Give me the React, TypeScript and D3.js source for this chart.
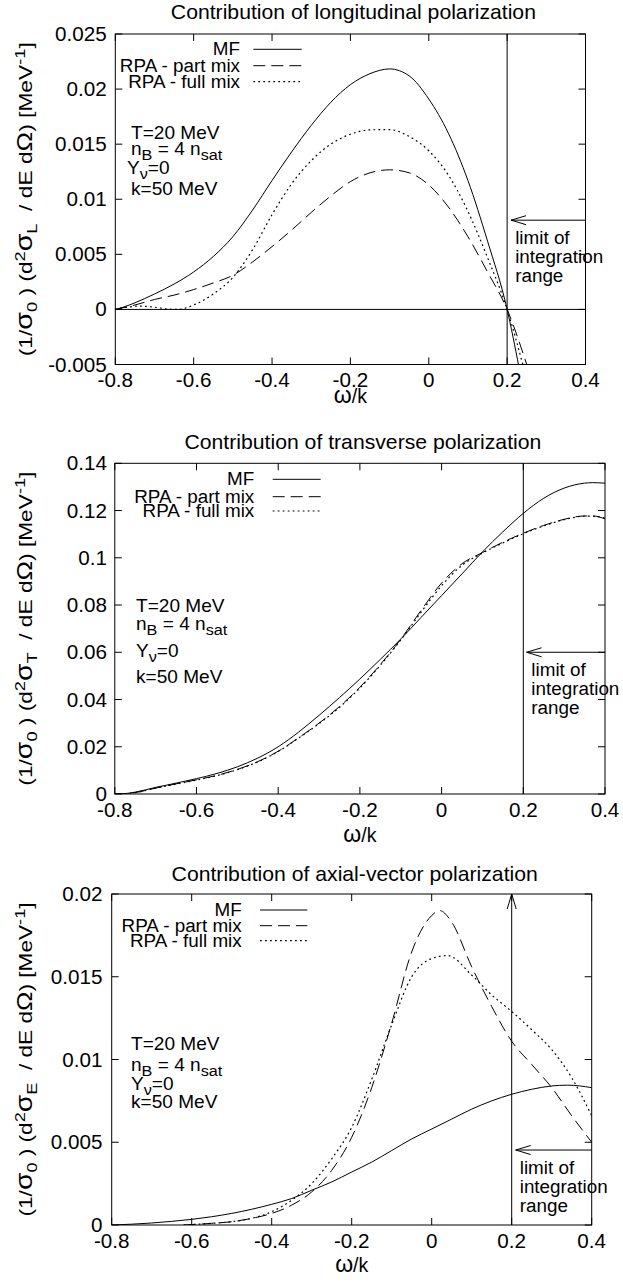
import React from 'react';
import * as d3 from 'd3';

// ---------- data ----------
const X_TICKS = [-0.8, -0.6, -0.4, -0.2, 0, 0.2, 0.4];
const X_DOMAIN = [-0.8, 0.4];

// Panel 1: longitudinal
const P1_YTICKS = [-0.005, 0, 0.005, 0.01, 0.015, 0.02, 0.025];
const P1_MF_X = [-0.8, -0.78, -0.75, -0.7, -0.65, -0.6, -0.55, -0.5, -0.45, -0.4, -0.35, -0.3, -0.25, -0.2, -0.15, -0.1, -0.05, 0, 0.05, 0.1, 0.15, 0.2, 0.23];
const P1_MF_Y = [0, 0.0002, 0.0006, 0.0014, 0.0023, 0.0034, 0.0048, 0.0066, 0.009, 0.0117, 0.0143, 0.0167, 0.0188, 0.0204, 0.0214, 0.02183, 0.0212, 0.0191, 0.016, 0.0117, 0.0062, 0, -0.0052];
const P1_PART_X = [-0.8, -0.75, -0.7, -0.65, -0.6, -0.55, -0.5, -0.45, -0.4, -0.35, -0.3, -0.25, -0.2, -0.15, -0.1, -0.05, 0, 0.05, 0.1, 0.15, 0.2, 0.25];
const P1_PART_Y = [0, 0.0004, 0.0009, 0.0013, 0.0018, 0.0024, 0.0031, 0.0043, 0.0057, 0.0072, 0.0088, 0.0103, 0.0116, 0.0124, 0.01267, 0.0124, 0.0113, 0.0093, 0.0066, 0.0034, 0, -0.005];
const P1_FULL_X = [-0.8, -0.77, -0.74, -0.7, -0.67, -0.64, -0.6, -0.55, -0.5, -0.45, -0.4, -0.35, -0.3, -0.25, -0.2, -0.15, -0.1, -0.05, 0, 0.05, 0.1, 0.15, 0.2, 0.24];
const P1_FULL_Y = [0, 0.0002, 0.0003, 0.0002, 0.00005, 0, 0.0004, 0.0014, 0.0029, 0.0054, 0.0086, 0.0114, 0.0135, 0.015, 0.0159, 0.0163, 0.01632, 0.0157, 0.0144, 0.0122, 0.0089, 0.0047, 0, -0.005];

// Panel 2: transverse
const P2_YTICKS = [0, 0.02, 0.04, 0.06, 0.08, 0.1, 0.12, 0.14];
const P2_X = [-0.8, -0.78, -0.75, -0.7, -0.65, -0.6, -0.55, -0.5, -0.45, -0.4, -0.35, -0.3, -0.25, -0.2, -0.15, -0.1, -0.05, 0, 0.05, 0.1, 0.15, 0.2, 0.25, 0.3, 0.35, 0.37, 0.4];
const P2_MF_Y = [0, 0.0001, 0.0008, 0.0028, 0.0046, 0.0065, 0.0087, 0.0115, 0.0152, 0.02, 0.0262, 0.0333, 0.0408, 0.0487, 0.057, 0.0656, 0.0748, 0.084, 0.0932, 0.1025, 0.111, 0.1188, 0.1252, 0.1295, 0.1316, 0.1318, 0.1316];
const P2_PART_Y = [0, 0.0001, 0.0006, 0.0025, 0.0043, 0.006, 0.0079, 0.0104, 0.0137, 0.0181, 0.0238, 0.03, 0.037, 0.0452, 0.0548, 0.0655, 0.0778, 0.0893, 0.0975, 0.1022, 0.1066, 0.1104, 0.1137, 0.1163, 0.1177, 0.1177, 0.1165];
const P2_FULL_Y = [0, 0.0001, 0.0006, 0.0025, 0.0042, 0.0059, 0.0078, 0.0103, 0.0136, 0.018, 0.0237, 0.0298, 0.0367, 0.0449, 0.0545, 0.0652, 0.077, 0.0882, 0.0968, 0.102, 0.1063, 0.1102, 0.1135, 0.1161, 0.1176, 0.1176, 0.1168];

// Panel 3: axial-vector
const P3_YTICKS = [0, 0.005, 0.01, 0.015, 0.02];
const P3_MF_X = [-0.8, -0.75, -0.7, -0.65, -0.6, -0.55, -0.5, -0.45, -0.4, -0.35, -0.3, -0.25, -0.2, -0.15, -0.1, -0.05, 0, 0.05, 0.1, 0.15, 0.2, 0.25, 0.3, 0.34, 0.4];
const P3_MF_Y = [0, 0.00005, 0.00012, 0.00022, 0.00034, 0.0005, 0.0007, 0.00095, 0.00125, 0.0016, 0.0021, 0.0026, 0.0032, 0.0038, 0.0045, 0.0052, 0.0058, 0.0064, 0.007, 0.0075, 0.0079, 0.0082, 0.0084, 0.00845, 0.0083];
const P3_PART_X = [-0.62, -0.55, -0.5, -0.45, -0.4, -0.35, -0.3, -0.25, -0.2, -0.15, -0.1, -0.05, 0, 0.02, 0.05, 0.1, 0.15, 0.2, 0.25, 0.3, 0.35, 0.4];
const P3_PART_Y = [0, 0.0001, 0.0002, 0.0004, 0.0007, 0.0012, 0.002, 0.0033, 0.0053, 0.0083, 0.0122, 0.0165, 0.0187, 0.019, 0.0183, 0.0156, 0.0132, 0.0111, 0.0097, 0.0083, 0.0066, 0.005];
const P3_FULL_X = [-0.62, -0.55, -0.5, -0.45, -0.4, -0.35, -0.3, -0.25, -0.2, -0.15, -0.1, -0.05, 0, 0.04, 0.1, 0.15, 0.2, 0.25, 0.3, 0.35, 0.4];
const P3_FULL_Y = [0, 0.0001, 0.0002, 0.0004, 0.0008, 0.0015, 0.0025, 0.004, 0.0059, 0.0088, 0.0121, 0.015, 0.0161, 0.01628, 0.0151, 0.0139, 0.0129, 0.0118, 0.0106, 0.0089, 0.0066];

const LEGEND = ['MF', 'RPA - part mix', 'RPA - full mix'];
const LIMIT_X = 0.2;

// ---------- styles ----------
const FONT = "'Liberation Sans', Arial, Helvetica, sans-serif";
const SX = 1.06;
const DASHES = [null, '12,6', '1.8,3.2'];

type Seg = { t: string; shift?: number; scale?: number };

function Rich({ segs, fs }: { segs: Seg[]; fs: number }) {
  let cur = 0;
  return (
    <>
      {segs.map((s, i) => {
        const target = s.shift || 0;
        const dy = target - cur;
        cur = target;
        return (
          <tspan key={i} dy={dy} fontSize={fs * (s.scale ?? 1)}>
            {s.t}
          </tspan>
        );
      })}
    </>
  );
}

function T({ x, y, fs, anchor = 'start', sx = SX, children }: any) {
  return (
    <text
      transform={`translate(${x},${y}) scale(${sx},1)`}
      textAnchor={anchor}
      fontSize={fs}
      fontFamily={FONT}
      fill="#000"
      style={{ whiteSpace: 'pre' }}
    >
      {children}
    </text>
  );
}

const fmt = (v: number) => String(+v.toFixed(4));

interface PanelProps {
  id: string;
  left: number; right: number; top: number; bottom: number;
  yDomain: [number, number];
  yTicks: number[];
  series: { xs: number[]; ys: number[] }[];
  title: string; titleY: number;
  sub: string;
  yTickRight: number;
  xTickBase: number;
  xLabelBase: number;
  legend: { textRight: number; lx1: number; lx2: number; rows: number[] };
  annot: { x: number; xY?: number; base: number[] };
  arrowY: number; arrowTip: number;
  zeroLine?: boolean;
  vArrow?: boolean;
}

function Panel(p: PanelProps) {
  const x = d3.scaleLinear().domain(X_DOMAIN).range([p.left, p.right]);
  const y = d3.scaleLinear().domain(p.yDomain).range([p.bottom, p.top]);
  const line = d3
    .line<[number, number]>()
    .x((d) => x(d[0]))
    .y((d) => y(d[1]))
    .curve(d3.curveMonotoneX);
  const tick = 7;
  const cx = (p.left + p.right) / 2;
  const cy = (p.top + p.bottom) / 2;
  const xl = x(LIMIT_X);
  const ay = y(p.arrowY);
  const tipX = x(p.arrowTip);
  const fsAnn = 18;
  const fsLeg = 17.8;
  const sub = (t: string): Seg => ({ t, shift: 5, scale: 0.85 });

  return (
    <g>
      <defs>
        <clipPath id={`clip-${p.id}`}>
          <rect x={p.left} y={p.top} width={p.right - p.left} height={p.bottom - p.top} />
        </clipPath>
      </defs>
      {/* title */}
      <T x={cx + 3} y={p.titleY} fs={20} anchor="middle">{p.title}</T>

      {/* frame */}
      <rect x={p.left} y={p.top} width={p.right - p.left} height={p.bottom - p.top} fill="none" stroke="#000" strokeWidth={1} />
      {/* y ticks */}
      {p.yTicks.map((v) => (
        <g key={'y' + v}>
          <line x1={p.left} x2={p.left + tick} y1={y(v)} y2={y(v)} stroke="#000" />
          <line x1={p.right} x2={p.right - tick} y1={y(v)} y2={y(v)} stroke="#000" />
          <T x={p.yTickRight} y={y(v) + 7} fs={19.5} anchor="end">{fmt(v)}</T>
        </g>
      ))}
      {/* x ticks */}
      {X_TICKS.map((v) => (
        <g key={'x' + v}>
          <line x1={x(v)} x2={x(v)} y1={p.bottom} y2={p.bottom - tick} stroke="#000" />
          <line x1={x(v)} x2={x(v)} y1={p.top} y2={p.top + tick} stroke="#000" />
          <T x={x(v)} y={p.xTickBase} fs={19.5} anchor="middle">{fmt(v)}</T>
        </g>
      ))}
      {/* x label */}
      <text x={cx} y={p.xLabelBase} textAnchor="middle" fontFamily={FONT} fontSize={19.5} fill="#000">
        <tspan fontSize={23}>ω</tspan>
        <tspan>/k</tspan>
      </text>
      {/* y label */}
      <text
        transform={`translate(31.5,${cy}) rotate(-90)`}
        textAnchor="middle"
        fontFamily={FONT}
        fontSize={19}
        fill="#000"
        style={{ whiteSpace: 'pre' }}
        textLength={314}
        lengthAdjust="spacingAndGlyphs"
      >
        <Rich
          fs={19}
          segs={[
            { t: '(1/' },
            { t: 'σ', scale: 1.25 },
            { t: '0', shift: 5, scale: 0.8 },
            { t: ' ) (d' },
            { t: '2', shift: -7, scale: 0.8 },
            { t: 'σ', scale: 1.25 },
            { t: p.sub, shift: 5, scale: 0.8 },
            { t: '  / dE d' },
            { t: 'Ω', scale: 1.15 },
            { t: ') [MeV' },
            { t: '-1', shift: -7, scale: 0.8 },
            { t: ']' },
          ]}
        />
      </text>

      {/* reference lines */}
      {p.zeroLine && <line x1={p.left} x2={p.right} y1={y(0)} y2={y(0)} stroke="#000" />}
      <line x1={xl} x2={xl} y1={p.bottom} y2={p.top} stroke="#000" />
      {p.vArrow && (
        <path d={`M${xl - 4.5},${p.top + 15} L${xl},${p.top} L${xl + 4.5},${p.top + 15}`} fill="none" stroke="#000" />
      )}
      {/* horizontal arrow */}
      <line x1={p.right} x2={tipX} y1={ay} y2={ay} stroke="#000" />
      <path d={`M${tipX + 15},${ay - 4.5} L${tipX},${ay} L${tipX + 15},${ay + 4.5}`} fill="none" stroke="#000" />
      <T x={xl + 8} y={ay + 24} fs={fsLeg}>limit of</T>
      <T x={xl + 8} y={ay + 43} fs={fsLeg}>integration</T>
      <T x={xl + 8} y={ay + 61.5} fs={fsLeg}>range</T>

      {/* curves */}
      <g clipPath={`url(#clip-${p.id})`}>
        {p.series.map((s, i) => (
          <path
            key={i}
            d={line(s.xs.map((v, j) => [v, s.ys[j]] as [number, number])) || ''}
            fill="none"
            stroke="#000"
            strokeWidth={i === 2 ? 1.2 : 1}
            strokeDasharray={DASHES[i] || undefined}
          />
        ))}
      </g>

      {/* legend */}
      {LEGEND.map((name, i) => (
        <g key={name}>
          <T x={p.legend.textRight} y={p.legend.rows[i] + 6} fs={fsLeg} anchor="end">{name}</T>
          <line
            x1={p.legend.lx1}
            x2={p.legend.lx2}
            y1={p.legend.rows[i]}
            y2={p.legend.rows[i]}
            stroke="#000"
            strokeWidth={i === 2 ? 1.2 : 1}
            strokeDasharray={DASHES[i] || undefined}
          />
        </g>
      ))}

      {/* annotation */}
      <T x={p.annot.x} y={p.annot.base[0]} fs={fsAnn}>T=20 MeV</T>
      <T x={p.annot.x} y={p.annot.base[1]} fs={fsAnn}>
        <Rich fs={fsAnn} segs={[{ t: 'n' }, sub('B'), { t: ' = 4 n' }, sub('sat')]} />
      </T>
      <T x={p.annot.xY ?? p.annot.x} y={p.annot.base[2]} fs={fsAnn}>
        <Rich fs={fsAnn} segs={[{ t: 'Y' }, sub('ν'), { t: '=0' }]} />
      </T>
      <T x={p.annot.x} y={p.annot.base[3]} fs={fsAnn}>k=50 MeV</T>
    </g>
  );
}

export default function App() {
  return (
    <svg
      width={623}
      height={1282}
      viewBox="0 0 623 1282"
      style={{ position: 'absolute', left: 0, top: 0, background: '#fff' }}
    >
      <rect x={0} y={0} width={623} height={1282} fill="#fff" />
      <Panel
        id="p1"
        left={115.3}
        right={585.5}
        top={34}
        bottom={364.5}
        yDomain={[-0.005, 0.025]}
        yTicks={P1_YTICKS}
        series={[
          { xs: P1_MF_X, ys: P1_MF_Y },
          { xs: P1_PART_X, ys: P1_PART_Y },
          { xs: P1_FULL_X, ys: P1_FULL_Y },
        ]}
        title="Contribution of longitudinal polarization"
        titleY={19.3}
        sub="L"
        yTickRight={106.7}
        xTickBase={387}
        xLabelBase={403}
        legend={{ textRight: 240, lx1: 253.3, lx2: 301.7, rows: [49.3, 65.7, 81.7] }}
        annot={{ x: 131, xY: 127, base: [139, 155, 174, 195] }}
        arrowY={0.0081}
        arrowTip={0.21}
        zeroLine
      />
      <Panel
        id="p2"
        left={114.8}
        right={605}
        top={463.3}
        bottom={794}
        yDomain={[0, 0.14]}
        yTicks={P2_YTICKS}
        series={[
          { xs: P2_X, ys: P2_MF_Y },
          { xs: P2_X, ys: P2_PART_Y },
          { xs: P2_X, ys: P2_FULL_Y },
        ]}
        title="Contribution of transverse polarization"
        titleY={449.3}
        sub="T"
        yTickRight={107}
        xTickBase={817}
        xLabelBase={841.7}
        legend={{ textRight: 254.3, lx1: 272.7, lx2: 320.7, rows: [479.3, 496.7, 511] }}
        annot={{ x: 136, base: [611.5, 630, 657, 682.5] }}
        arrowY={0.06}
        arrowTip={0.208}
      />
      <Panel
        id="p3"
        left={111.7}
        right={591.7}
        top={894}
        bottom={1225}
        yDomain={[0, 0.02]}
        yTicks={P3_YTICKS}
        series={[
          { xs: P3_MF_X, ys: P3_MF_Y },
          { xs: P3_PART_X, ys: P3_PART_Y },
          { xs: P3_FULL_X, ys: P3_FULL_Y },
        ]}
        title="Contribution of axial-vector polarization"
        titleY={880.7}
        sub="E"
        yTickRight={102.5}
        xTickBase={1247.5}
        xLabelBase={1271.7}
        legend={{ textRight: 241.7, lx1: 260, lx2: 307.3, rows: [910, 925.7, 940.7] }}
        annot={{ x: 131, base: [1050, 1070.7, 1090, 1108.3] }}
        arrowY={0.00453}
        arrowTip={0.21}
        vArrow
      />
    </svg>
  );
}
